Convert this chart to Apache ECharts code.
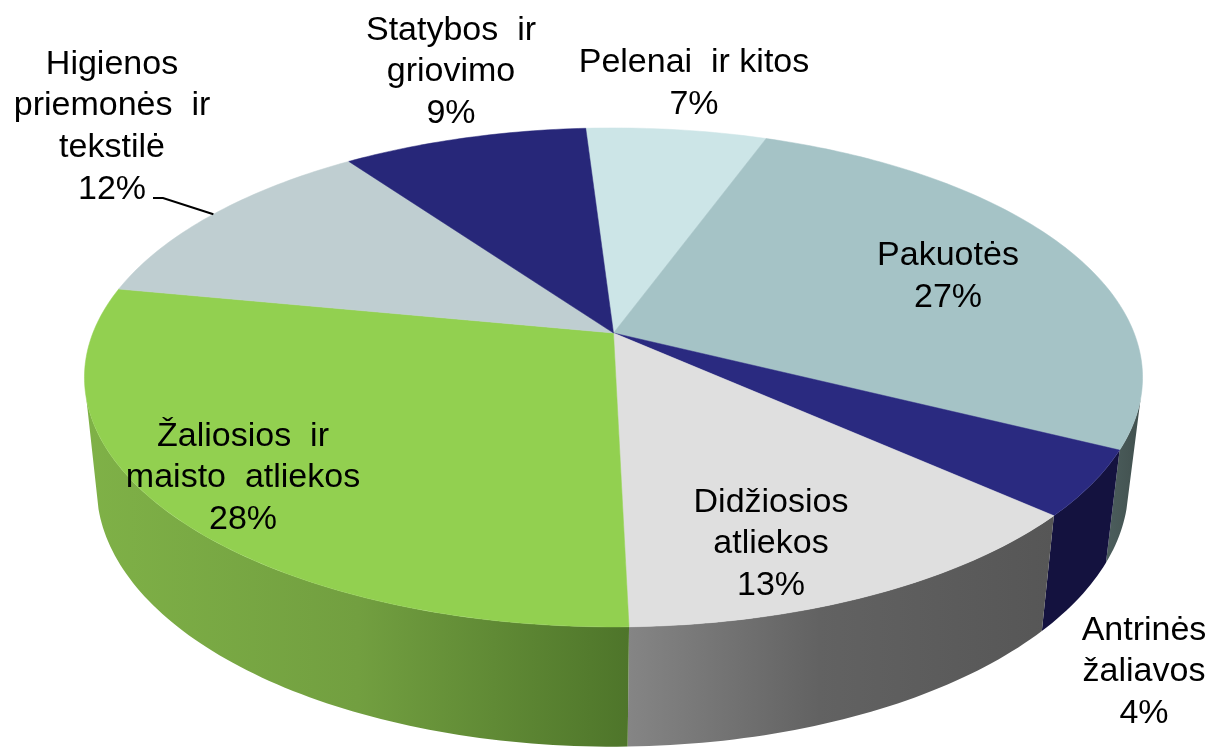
<!DOCTYPE html>
<html>
<head>
<meta charset="utf-8">
<style>html,body{margin:0;padding:0;background:#fff}#chart{width:1215px;height:747px}</style>
<script src="https://cdn.jsdelivr.net/npm/echarts@6/dist/echarts.min.js"></script>
</head>
<body>
<div id="chart"></div>
<script>
// Data (slice sizes estimated from the drawn angles; labels show them rounded)
const categories = ['Pelenai ir kitos', 'Pakuotės', 'Antrinės žaliavos', 'Didžiosios atliekos', 'Žaliosios ir maisto atliekos', 'Higienos priemonės ir tekstilė', 'Statybos ir griovimo'];
const values = [6.56, 26.8, 4.25, 13.0, 28.4, 12.1, 8.89];
const labelTexts = [
  'Pelenai  ir kitos', 'Pakuotės', 'Antrinės\nžaliavos', 'Didžiosios\natliekos',
  'Žaliosios  ir\nmaisto  atliekos', 'Higienos\npriemonės  ir\ntekstilė', 'Statybos  ir\ngriovimo'
];
const topColors = ['#CCE5E7', '#A5C3C6', '#2A2A80', '#DFDFDF', '#92D050', '#BFCED1', '#272779'];
const wallStops = [
  [[0, '#6f8486'], [1, '#6f8486']],
  [[0, '#4C5E5D'], [1, '#41504E']],
  [[0, '#14123F'], [1, '#14123F']],
  [[0, '#858585'], [0.45, '#626262'], [1, '#565656']],
  [[0, '#7FB147'], [0.5, '#729F40'], [1, '#4E752A']],
  [[0, '#6a7c7f'], [1, '#6a7c7f']],
  [[0, '#14123F'], [1, '#14123F']]
];
const labelCentres = [[694, 84], [948, 277], [1144, 672], [771, 544], [243, 478], [112, 127], [451, 72]];

// Projection of the tilted disc
const START_DEG = -3.6;
const CX = 613.5, CY = 333, A = 520.6, B = 241.6, K = 0.178;
const WALL = { cx: 612.5, cy: 441, sx: 0.975, sy: 1.04, from: 105, to: 255 };
const total = values.reduce((s, v) => s + v, 0);

function rim(deg) {
  const t = deg * Math.PI / 180, u = Math.sin(t), v = -Math.cos(t), w = 1 - K * v;
  return [CX + A * u / w, CY + B * v / w];
}
function lowerRim(deg) {
  const p = rim(deg);
  return [WALL.cx + WALL.sx * (p[0] - CX), WALL.cy + WALL.sy * (p[1] - CY)];
}
function sliceAngles(i) {
  let before = 0;
  for (let j = 0; j < i; j++) before += values[j];
  return [START_DEG + before / total * 360, START_DEG + (before + values[i]) / total * 360];
}
function arc(fn, a0, a1) {
  const pts = [], n = Math.max(2, Math.ceil(Math.abs(a1 - a0)));
  for (let i = 0; i <= n; i++) pts.push(fn(a0 + (a1 - a0) * i / n));
  return pts;
}

const seriesData = values.map((v, i) => ({ name: categories[i], value: v }));

function renderWall(params, api) {
  const i = params.dataIndex, ang = sliceAngles(i);
  const a0 = Math.max(ang[0], WALL.from), a1 = Math.min(ang[1], WALL.to);
  if (a1 <= a0) return null;
  const pts = arc(rim, a0, a1).concat(arc(lowerRim, a1, a0));
  return {
    type: 'polygon', shape: { points: pts },
    style: {
      fill: new echarts.graphic.LinearGradient(0, 0, 1, 0,
        wallStops[i].map(s => ({ offset: s[0], color: s[1] })))
    }
  };
}
function renderTop(params, api) {
  const i = params.dataIndex, [a0, a1] = sliceAngles(i);
  const pts = [[CX, CY]].concat(arc(rim, a0, a1));
  return { type: 'polygon', shape: { points: pts }, style: { fill: topColors[i], stroke: topColors[i], lineWidth: 0.5 } };
}
function renderLabel(params, api) {
  const i = params.dataIndex, c = labelCentres[i];
  const children = [{
    type: 'text',
    style: {
      text: labelTexts[i] + '\n' + Math.round(api.value(0)) + '%',
      x: c[0], y: c[1], align: 'center', verticalAlign: 'middle',
      font: '34px "Liberation Sans", Arial, sans-serif', lineHeight: 41.8, fill: '#000000'
    }
  }];
  if (i === 5) { // leader line of the outside label, ending on the slice's rim
    const [a0, a1] = sliceAngles(i), end = rim((a0 + a1) / 2);
    children.push({
      type: 'polyline',
      shape: { points: [[c[0] + 41, c[1] + 71], [c[0] + 51, c[1] + 71], end] },
      style: { stroke: '#000', lineWidth: 2, fill: null }
    });
  }
  return { type: 'group', children };
}

const chart = echarts.init(document.getElementById('chart'), null, { renderer: 'canvas' });
chart.setOption({
  animation: false,
  backgroundColor: '#ffffff',
  series: [
    { type: 'custom', coordinateSystem: 'none', silent: true, data: seriesData, renderItem: renderWall, z: 1 },
    { type: 'custom', coordinateSystem: 'none', silent: true, data: seriesData, renderItem: renderTop, z: 2 },
    { type: 'custom', coordinateSystem: 'none', silent: true, data: seriesData, renderItem: renderLabel, z: 3 }
  ]
});
</script>
</body>
</html>
